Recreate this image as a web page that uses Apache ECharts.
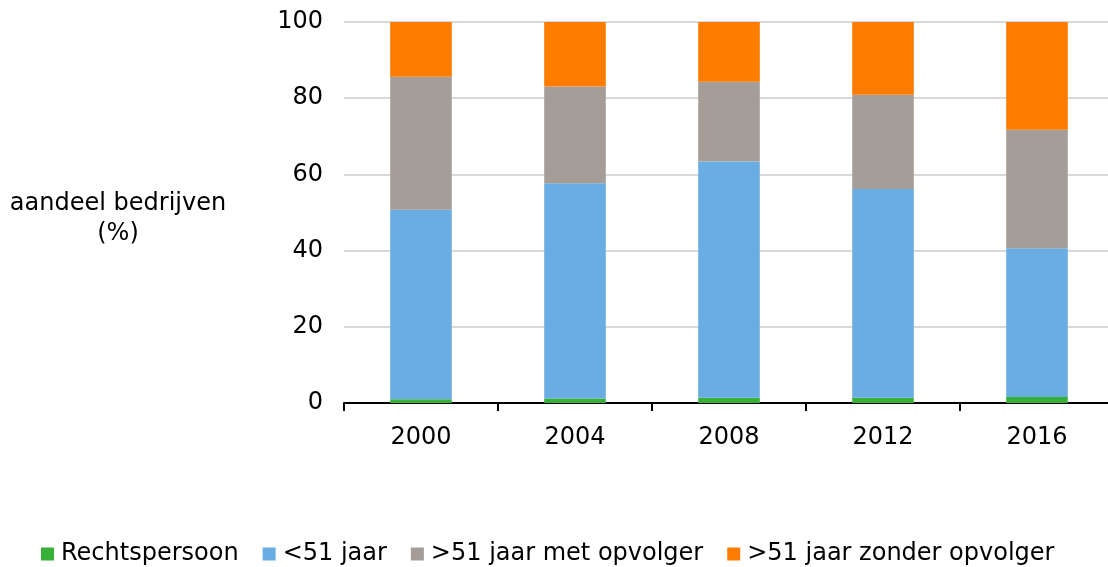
<!DOCTYPE html>
<html>
<head>
<meta charset="utf-8">
<script src="https://cdn.jsdelivr.net/npm/echarts@6/dist/echarts.min.js"></script>
<style>
  html, body { margin: 0; padding: 0; background: #ffffff; }
  #chart { width: 1108px; height: 567px; }
</style>
</head>
<body>
<div id="chart"></div>
<script>
var years = ['2000', '2004', '2008', '2012', '2016']
var rechtspersoon = [1.0, 1.2, 1.4, 1.4, 1.6]
var jonger51 = [49.7, 56.5, 62.0, 54.8, 39.0]
var metOpvolger = [34.9, 25.4, 20.9, 24.7, 31.1]
var zonderOpvolger = [14.4, 16.9, 15.7, 19.1, 28.3]
var yTicks = [0, 20, 40, 60, 80, 100]

var fontName = 'DejaVu Sans'
var myChart = echarts.init(document.getElementById('chart'))

function barSeries (name, data, color) {
  return {
    name: name,
    type: 'bar',
    stack: 'total',
    barWidth: '40%',
    data: data,
    itemStyle: { color: color },
    emphasis: { disabled: true }
  }
}

var option = {
  animation: false,
  textStyle: { fontFamily: fontName },
  grid: {
    left: 344,
    width: 770,
    top: 22,
    height: 381,
    outerBoundsMode: 'none'
  },
  legend: {
    left: 36,
    top: 537,
    itemWidth: 13,
    itemHeight: 13,
    itemGap: 24,
    icon: 'rect',
    textStyle: { fontSize: 24, color: '#000000', fontFamily: fontName, padding: [0, 0, 0, 2] },
    data: ['Rechtspersoon', '<51 jaar', '>51 jaar met opvolger', '>51 jaar zonder opvolger']
  },
  graphic: [{
    type: 'text',
    x: 118,
    y: 189,
    style: {
      text: 'aandeel bedrijven\n(%)',
      font: '24px ' + fontName,
      fill: '#000000',
      align: 'center',
      lineHeight: 30
    }
  }],
  xAxis: {
    type: 'category',
    data: years,
    axisLine: { lineStyle: { color: '#000000', width: 2 } },
    axisTick: { show: true, length: 8, lineStyle: { color: '#000000', width: 2 } },
    axisLabel: { fontSize: 24, color: '#000000', margin: 23 }
  },
  yAxis: {
    type: 'value',
    min: yTicks[0],
    max: yTicks[yTicks.length - 1],
    interval: 20,
    axisLine: { show: false },
    axisTick: { show: false },
    splitLine: { lineStyle: { color: '#d9d9d9', width: 2 } },
    axisLabel: { fontSize: 24, color: '#000000', margin: 21 }
  },
  series: [
    barSeries('Rechtspersoon', rechtspersoon, '#36b037'),
    barSeries('<51 jaar', jonger51, '#6aade2'),
    barSeries('>51 jaar met opvolger', metOpvolger, '#a59d97'),
    barSeries('>51 jaar zonder opvolger', zonderOpvolger, '#ff7c00')
  ]
}
myChart.setOption(option)
</script>
</body>
</html>
